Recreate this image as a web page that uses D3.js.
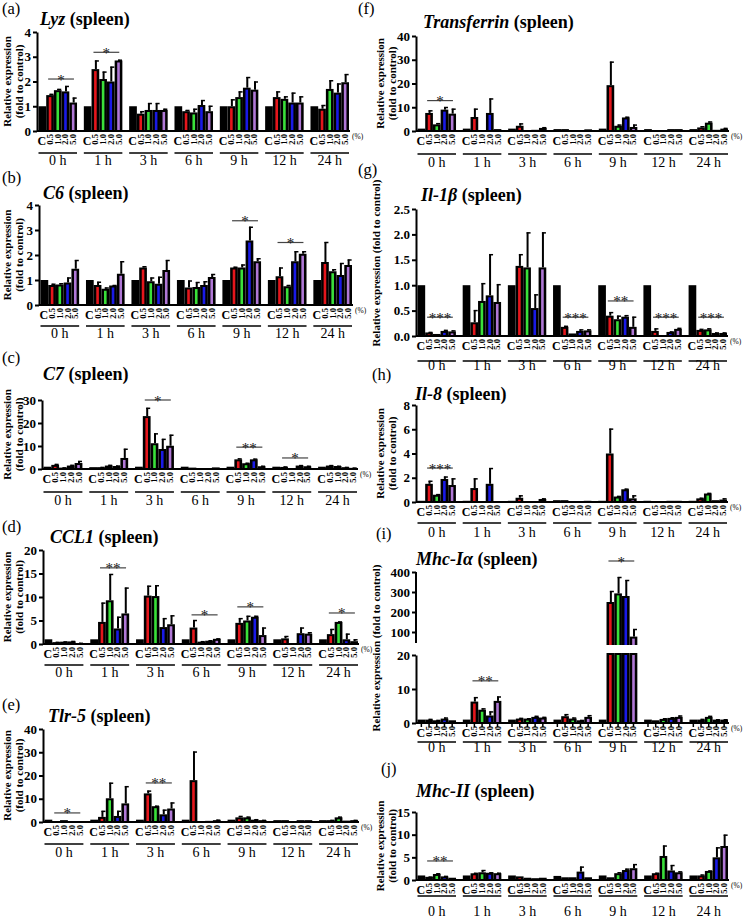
<!DOCTYPE html>
<html><head><meta charset="utf-8">
<script src="https://cdn.jsdelivr.net/npm/d3@7"></script>
<style>body{margin:0;background:#fff}</style>
</head><body>
<script>
// ---------------- DATA ----------------
const times = ["0 h","1 h","3 h","6 h","9 h","12 h","24 h"];
const doses = ["C","0.5","1.0","2.0","5.0"];

const lyzMean = [[1.0,1.45,1.65,1.6,1.15],[1.0,2.5,2.1,2.0,2.85],[1.0,0.7,0.85,0.85,0.85],[1.0,0.8,0.75,1.05,0.8],[1.0,1.0,1.37,1.75,1.67],[1.0,1.37,1.3,1.15,1.15],[1.0,0.9,1.7,1.55,1.97]];
const lyzErr  = [[0,0.05,0.05,0.22,0.2],[0,0.35,0.3,0.6,0.03],[0,0.1,0.28,0.28,0.05],[0,0.05,0.15,0.2,0.22],[0,0.28,0.23,0.43,0.33],[0,0.23,0.1,0.4,0.25],[0,0.15,0.35,0.37,0.33]];
const lyzSig  = [{t:"0 h",s:"*",at:2.1},{t:"1 h",s:"*",at:3.18}];

const c6Mean = [[1.0,0.8,0.82,0.9,1.45],[1.0,0.8,0.65,0.78,1.25],[1.0,1.5,0.95,0.85,1.4],[1.0,0.7,0.72,0.8,1.12],[1.0,1.5,1.5,2.58,1.75],[1.0,1.15,0.75,1.75,2.05],[1.0,1.72,1.35,1.2,1.6]];
const c6Err  = [[0,0.05,0.05,0.2,0.35],[0,0.13,0.05,0.02,0.5],[0,0.05,0.15,0.28,0.4],[0,0.28,0.2,0.15,0.12],[0,0.03,0.12,0.55,0.12],[0,0.35,0.05,0.4,0.1],[0,0.8,0.08,0.48,0.22]];
const c6Sig  = [{t:"9 h",s:"*",at:3.37},{t:"12 h",s:"*",at:2.5}];

const c7Mean = [[1.0,1.8,0.6,1.5,2.6],[0.8,0.8,1.5,1.3,4.8],[1.0,23,11.2,8.7,10.1],[1.0,0.6,0.4,0.4,0.7],[1.0,4.2,2.5,4.2,1.2],[1.0,0.9,0.2,1.5,1.2],[1.0,1.5,1.3,0.8,0.5]];
const c7Err  = [[0,0.4,0.1,0.3,0.9],[0,0.1,0.3,0.2,4.0],[0,3.6,4.3,4.4,4.8],[0,0,0,0,0],[0,0.4,0.2,0.3,0.2],[0,0.2,0,0.2,0.2],[0,0.2,0.1,0.1,0.1]];
const c7Sig  = [{t:"3 h",s:"*",at:30},{t:"9 h",s:"**",at:9.5},{t:"12 h",s:"*",at:4.8}];

const ccl1Mean = [[1.0,0.4,0.5,0.55,0.2],[1.0,4.7,9.3,3.3,6.5],[1.0,10.3,10.2,3.6,4.2],[1.0,3.5,0.5,0.7,1.1],[1.0,4.5,5.0,5.8,1.9],[1.0,1.2,0.1,2.3,2.2],[1.0,2.1,4.7,1.0,0.6]];
const ccl1Err  = [[0,0.05,0.05,0.1,0.05],[0,4.1,5.6,2.5,5.5],[0,2.1,2.3,1.9,1.9],[0,1.6,0.1,0.1,0.1],[0,1.0,1.0,0.2,1.6],[0,0.5,0,1.2,0.3],[0,1.1,0.1,1.2,0.4]];
const ccl1Sig  = [{t:"1 h",s:"**",at:16.2},{t:"6 h",s:"*",at:6.2},{t:"9 h",s:"*",at:7.9},{t:"24 h",s:"*",at:6.6}];

const tlr5Mean = [[1.0,0.4,0.8,0.4,0.3],[1.0,2.2,10.2,2.6,8.0],[1.0,12.3,6.8,3.3,5.8],[1.0,18.0,0.3,0.5,0.8],[1.0,2.0,2.0,1.0,0.8],[0.8,0.8,0.1,0.8,0.8],[0.8,0.8,2.0,0.6,0.8]];
const tlr5Err  = [[0,0,0,0,0],[0,2.6,6.7,2.2,7.4],[0,1.2,0.2,2.0,2.6],[0,12.3,0,0,0.2],[0,0.6,0.3,0.2,0.1],[0,0,0,0,0],[0,0.1,0.3,0,0.1]];
const tlr5Sig  = [{t:"0 h",s:"*",at:3.9},{t:"3 h",s:"**",at:16.8}];

const tfMean = [[1.0,7.6,2.8,9.0,7.3],[1.0,5.9,0.3,7.6,0.8],[1.0,2.2,0.4,0.5,1.3],[0.8,0.8,0.2,0.2,0.7],[1.0,19.3,2.2,5.7,1.7],[0.8,0.2,0.1,0.8,0.8],[0.8,1.5,3.5,0.5,1.0]];
const tfErr  = [[0,1.1,0.5,1.1,2.1],[0,3.5,0,6.1,0],[0,1.0,0,0,0.3],[0,0,0,0,0],[0,9.9,0.5,0.3,1.0],[0,0,0,0,0],[0,0.5,0.5,0,0.3]];
const tfSig  = [{t:"0 h",s:"*",at:12.8}];

const il1bMean = [[1.0,0.07,0.04,0.1,0.09],[1.0,0.27,0.69,0.8,0.67],[1.0,1.38,1.35,0.55,1.35],[1.0,0.18,0.05,0.1,0.11],[1.0,0.4,0.33,0.38,0.18],[1.0,0.1,0.01,0.08,0.14],[1.0,0.12,0.13,0.06,0.06]];
const il1bErr  = [[0,0.01,0,0.02,0.02],[0,0.24,0.35,0.81,0.35],[0,0.23,0.69,0.27,0.69],[0,0.02,0,0.03,0.02],[0,0.07,0.07,0.03,0.2],[0,0.05,0,0.01,0.02],[0,0.02,0.02,0.01,0.01]];
const il1bSig  = [{t:"0 h",s:"***",at:0.37},{t:"6 h",s:"***",at:0.37},{t:"9 h",s:"**",at:0.69},{t:"12 h",s:"***",at:0.37},{t:"24 h",s:"***",at:0.37}];

const il8Mean = [[0.1,1.5,0.6,1.9,1.4],[0.1,1.15,0.05,1.5,0.05],[0.1,0.35,0.05,0.05,0.25],[0.15,0.15,0.05,0.05,0.1],[0.1,4.0,0.45,1.05,0.3],[0.1,0.05,0.05,0.1,0.1],[0.1,0.3,0.7,0.15,0.2]];
const il8Err  = [[0,0.25,0.05,0.2,0.55],[0,0.8,0,1.3,0],[0,0.2,0,0,0.05],[0,0,0,0,0],[0,2.05,0.05,0.05,0.25],[0,0,0,0,0],[0,0.05,0.05,0,0.1]];
const il8Sig  = [{t:"0 h",s:"***",at:2.8}];

const mhc1Mean = [[1.0,1.0,0.8,1.3,0.8],[1.0,6.3,3.9,2.2,6.5],[1.0,1.3,1.3,1.8,1.6],[1.0,2.0,1.3,0.8,1.8],[1.0,250,293,280,77],[1.0,0.8,1.2,1.5,1.8],[1.0,1.0,1.8,1.0,1.0]];
const mhc1Err  = [[0,0.2,0.1,0.3,0],[0,1.3,0.4,1.2,1.3],[0,0.2,0.1,0.3,0.2],[0,0.6,0.3,0.1,0.5],[0,55,82,80,38],[0,0,0.2,0.2,0.4],[0,0.2,0.3,0.1,0.1]];
const mhc1Sig  = [{t:"1 h",s:"**",at:12.4},{t:"9 h",s:"*",at:455}];

const mhc2Mean = [[1.0,0.7,1.33,0.8,0.5],[1.0,1.48,1.7,1.6,1.5],[1.0,0.8,0.5,0.4,0.5],[0.9,0.6,0.6,1.85,0.6],[1.0,0.6,1.5,2.2,2.6],[1.0,1.5,5.3,2.1,1.7],[1.0,1.0,2.0,5.0,7.5]];
const mhc2Err  = [[0,0.05,0.15,0.1,0],[0,0.1,0.5,0.1,0.1],[0,0,0,0,0],[0,0,0,1.1,0],[0,0,0.2,0.3,0.9],[0,0.1,2.3,1.2,0.2],[0,0.2,0.1,2.2,2.5]];
const mhc2Sig  = [{t:"0 h",s:"**",at:4.2}];

// ---------------- RENDER ----------------
const W = 747, H = 919;
const FONT = "'Liberation Serif','Times New Roman',serif";
const svg = d3.select("body").append("svg").attr("width", W).attr("height", H)
  .style("font-family", FONT);
const colors = {"C":"#000","0.5":"#e5161c","1.0":"#3ae03a","2.0":"#1a1ae6","5.0":"#b078d6"};

const panels = [
  {id:"(a)", gene:"Lyz", mean:lyzMean, err:lyzErr, sig:lyzSig, ticks:[0,1,2,3,4], max:4, fmt:d3.format("d"),
   ax:37, end:349, y0:131, yTop:32, lab:[2,14], title:[40,25], ytx:[11,23], ul:22, tl:34},
  {id:"(b)", gene:"C6", mean:c6Mean, err:c6Err, sig:c6Sig, ticks:[0,1,2,3,4], max:4, fmt:d3.format("d"),
   ax:39, end:352, y0:305, yTop:205, lab:[2,183], title:[43,199], ytx:[11,23], ul:21, tl:33},
  {id:"(c)", gene:"C7", mean:c7Mean, err:c7Err, sig:c7Sig, ticks:[0,10,20,30], max:30, fmt:d3.format("d"),
   ax:42, end:357, y0:469, yTop:400, lab:[2,363], title:[43,380], ytx:[11,23], ul:23, tl:36},
  {id:"(d)", gene:"CCL1", mean:ccl1Mean, err:ccl1Err, sig:ccl1Sig, ticks:[0,5,10,15,20], max:20, fmt:d3.format("d"),
   ax:43, end:358, y0:644, yTop:550, lab:[2,532], title:[50,543], ytx:[11,23], ul:21, tl:33},
  {id:"(e)", gene:"Tlr-5", mean:tlr5Mean, err:tlr5Err, sig:tlr5Sig, ticks:[0,10,20,30,40], max:40, fmt:d3.format("d"),
   ax:43, end:358, y0:822, yTop:729, lab:[2,710], title:[48,722], ytx:[11,23], ul:22, tl:35},
  {id:"(f)", gene:"Transferrin", mean:tfMean, err:tfErr, sig:tfSig, ticks:[0,10,20,30,40], max:40, fmt:d3.format("d"),
   ax:416, end:728, y0:131, yTop:36, lab:[358,14], title:[423,28], ytx:[384,396], ul:23, tl:36},
  {id:"(g)", gene:"Il-1β", mean:il1bMean, err:il1bErr, sig:il1bSig, ticks:[0,0.5,1,1.5,2,2.5], max:2.5, fmt:d3.format(".1f"),
   ax:416, end:727, y0:336, yTop:209, lab:[358,175], title:[421,201], ytx:[380], ul:25, tl:34, ycy:263},
  {id:"(h)", gene:"Il-8", mean:il8Mean, err:il8Err, sig:il8Sig, ticks:[0,2,4,6,8], max:8, fmt:d3.format("d"),
   ax:416, end:727, y0:502, yTop:405, lab:[372,380], title:[415,400], ytx:[384,396], ul:21, tl:35},
  {id:"(i)", gene:"Mhc-Iα", mean:mhc1Mean, err:mhc1Err, sig:mhc1Sig, ticks:[0,10,20], hiTicks:[100,200,300,400], broken:true,
   fmt:d3.format("d"), ax:416, end:728, y0:723, lowTop:655, hiBottom:645, hiTop:572, hiMin:35,
   lab:[376,539], title:[416,565], ytx:[380], ul:19, tl:29, ycy:648, xticks:true},
  {id:"(j)", gene:"Mhc-II", mean:mhc2Mean, err:mhc2Err, sig:mhc2Sig, ticks:[0,5,10,15], max:15, fmt:d3.format("d"),
   ax:416, end:728, y0:880, yTop:812, lab:[381,774], title:[416,797], ytx:[384,396], ul:16, tl:36}
];

function styleAxis(sel){
  sel.select(".domain").attr("stroke","#000").attr("stroke-width",2);
  sel.selectAll(".tick line").attr("stroke","#000").attr("stroke-width",2);
  sel.selectAll(".tick text").attr("font-family",FONT).attr("font-size",13).attr("font-weight","bold").attr("fill","#000");
}

function drawPanel(p){
  const g = svg.append("g");
  const x = d3.scaleBand().domain(times).range([p.ax + 1.5, p.end]).paddingInner(0.15).paddingOuter(0);
  const xs = d3.scaleBand().domain(doses).range([0, x.bandwidth()]);
  const bw = xs.bandwidth();
  let yPix, lowY, hiY;
  if (p.broken) {
    lowY = d3.scaleLinear().domain([0, 20]).range([p.y0, p.lowTop]);
    hiY = d3.scaleLinear().domain([p.hiMin, 400]).range([p.hiBottom, p.hiTop]);
    yPix = v => v <= 20 ? lowY(v) : hiY(v);
  } else {
    const y = d3.scaleLinear().domain([0, p.max]).range([p.y0, p.yTop]);
    yPix = y;
  }

  // axes
  if (p.broken) {
    const la = g.append("g").attr("transform",`translate(${p.ax},0)`)
      .call(d3.axisLeft(lowY).tickValues(p.ticks).tickFormat(p.fmt).tickSize(4).tickSizeOuter(0).tickPadding(2));
    styleAxis(la);
    const ha = g.append("g").attr("transform",`translate(${p.ax},0)`)
      .call(d3.axisLeft(hiY).tickValues(p.hiTicks).tickFormat(p.fmt).tickSize(4).tickSizeOuter(0).tickPadding(2));
    styleAxis(ha);
    ha.select(".domain").attr("d", `M0,${hiY(p.hiMin) - 2}V${hiY(400)}`);
  } else {
    const ya = g.append("g").attr("transform",`translate(${p.ax},0)`)
      .call(d3.axisLeft(yPix).tickValues(p.ticks).tickFormat(p.fmt).tickSize(4).tickSizeOuter(0).tickPadding(2));
    styleAxis(ya);
  }

  // bars
  times.forEach((t,i) => {
    doses.forEach((d,j) => {
      const v = p.mean[i][j], e = p.err[i][j];
      const bx = x(t) + xs(d);
      const segs = [];
      if (p.broken && v > 20) {
        segs.push([lowY(20) - 2, p.y0]);
        segs.push([hiY(v), hiY(p.hiMin)]);
      } else segs.push([yPix(v), p.y0]);
      segs.forEach(([top, bot]) => {
        g.append("rect").attr("x", bx).attr("y", top).attr("width", bw)
          .attr("height", Math.max(0, bot - top)).attr("fill", "#000");
        if (d !== "C" && bot - top > 3.5)
          g.append("rect").attr("x", bx + bw/2 - 1.3).attr("y", top + 2).attr("width", 2.6)
            .attr("height", bot - top - 2).attr("fill", colors[d]);
      });
      if (e > 0) {
        const cx = bx + bw/2 + 0.5;
        const yt = yPix(v + e), yb = yPix(v);
        g.append("line").attr("x1", cx).attr("x2", cx).attr("y1", yb).attr("y2", yt)
          .attr("stroke","#000").attr("stroke-width",2);
        g.append("line").attr("x1", cx - 1).attr("x2", cx + 3).attr("y1", yt + 0.5).attr("y2", yt + 0.5)
          .attr("stroke","#000").attr("stroke-width",1.5);
      }
    });
  });

  // x baseline
  g.append("line").attr("x1", p.ax).attr("x2", p.end + 1).attr("y1", p.y0).attr("y2", p.y0)
    .attr("stroke","#000").attr("stroke-width",2);

  // x tick marks (Mhc-I panel)
  if (p.xticks) {
    times.forEach(t => doses.forEach(d => {
      const cx = x(t) + xs(d) + bw/2;
      g.append("line").attr("x1",cx).attr("x2",cx).attr("y1",p.y0).attr("y2",p.y0+4)
        .attr("stroke","#000").attr("stroke-width",1.5);
    }));
  }

  // category labels
  times.forEach((t) => {
    doses.forEach((d) => {
      const cx = x(t) + xs(d) + bw/2;
      if (d === "C") {
        g.append("text").attr("x", cx - 0.5).attr("y", p.y0 + 14).attr("text-anchor","middle")
          .attr("font-size", 12).attr("font-weight","bold").text(d);
      } else {
        g.append("text").attr("transform", `translate(${cx + 3},${p.y0 + 3}) rotate(-90)`)
          .attr("text-anchor","end").attr("font-size", 8.5).attr("font-weight","bold").text(d);
      }
    });
    g.append("line").attr("x1", x(t)).attr("x2", x(t) + x.bandwidth())
      .attr("y1", p.y0 + p.ul).attr("y2", p.y0 + p.ul).attr("stroke","#000").attr("stroke-width",1.5);
    g.append("text").attr("x", x(t) + x.bandwidth()/2).attr("y", p.y0 + p.tl).attr("text-anchor","middle")
      .attr("font-size", 14).text(t);
  });
  g.append("text").attr("x", p.end + 3).attr("y", p.y0 + 8).attr("font-size", 7.5).text("(%)");

  // significance
  p.sig.forEach(s => {
    const x0 = x(s.t), w = x.bandwidth();
    const yy = yPix(s.at);
    g.append("line").attr("x1", x0 + 0.25*w).attr("x2", x0 + 0.92*w).attr("y1", yy).attr("y2", yy)
      .attr("stroke","#444").attr("stroke-width",1.2);
    g.append("text").attr("x", x0 + 0.585*w).attr("y", yy + 5.5).attr("text-anchor","middle")
      .attr("font-size", 15).attr("fill","#111").text(s.s);
  });

  // panel label
  g.append("text").attr("x", p.lab[0]).attr("y", p.lab[1]).attr("font-size", 16.5).text(p.id);
  // title
  const tt = g.append("text").attr("x", p.title[0]).attr("y", p.title[1]).attr("font-size", 18).attr("font-weight","bold");
  tt.append("tspan").attr("font-style","italic").text(p.gene);
  tt.append("tspan").text(" (spleen)");

  // y title
  const cy = p.ycy !== undefined ? p.ycy : (p.y0 + (p.yTop)) / 2;
  if (p.ytx.length === 2) {
    ["Relative expression","(fold to control)"].forEach((s,k) => {
      g.append("text").attr("transform", `translate(${p.ytx[k]},${cy}) rotate(-90)`)
        .attr("text-anchor","middle").attr("font-size", 11).attr("font-weight","bold").text(s);
    });
  } else {
    g.append("text").attr("transform", `translate(${p.ytx[0]},${cy}) rotate(-90)`)
      .attr("text-anchor","middle").attr("font-size", 11).attr("font-weight","bold")
      .text("Relative expression (fold to control)");
  }
}

panels.forEach(drawPanel);
</script>
</body></html>
